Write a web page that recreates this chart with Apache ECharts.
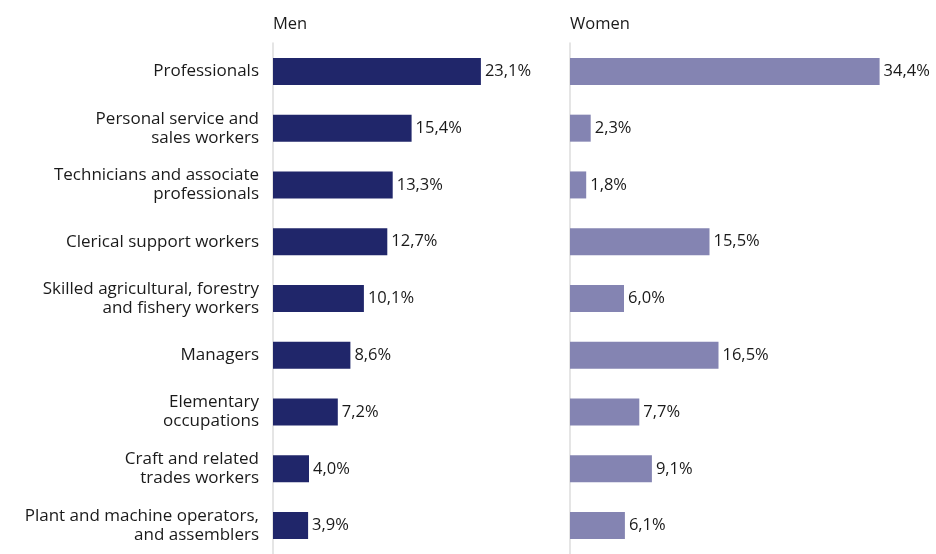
<!DOCTYPE html>
<html>
<head>
<meta charset="utf-8">
<script src="https://cdn.jsdelivr.net/npm/echarts@6/dist/echarts.min.js"></script>
<style>
  html, body { margin: 0; padding: 0; background: #fff; }
  #chart { width: 936px; height: 554px; }
</style>
</head>
<body>
<div id="chart"></div>
<script>
const categories = [
  'Professionals',
  'Personal service and\nsales workers',
  'Technicians and associate\nprofessionals',
  'Clerical support workers',
  'Skilled agricultural, forestry\nand fishery workers',
  'Managers',
  'Elementary\noccupations',
  'Craft and related\ntrades workers',
  'Plant and machine operators,\nand assemblers'
]
const men = [23.1, 15.4, 13.3, 12.7, 10.1, 8.6, 7.2, 4.0, 3.9]
const women = [34.4, 2.3, 1.8, 15.5, 6.0, 16.5, 7.7, 9.1, 6.1]
const panelTitles = ['Men', 'Women']

const FONT = '"Open Sans", "Noto Sans", sans-serif'
const TEXT = '#1a1a1a'
const COLORS = ['#20266a', '#8484b2']

const chart = echarts.init(document.getElementById('chart'))

const fmt = p => p.value.toFixed(1).replace('.', ',') + '%'

const grids = [
  { left: 273, top: 43, width: 270, height: 515 },
  { left: 570, top: 43, width: 315, height: 515 }
]

chart.setOption({
  animation: false,
  textStyle: { fontFamily: FONT },
  title: panelTitles.map((t, i) => ({
    text: t,
    left: grids[i].left - 5,
    top: 11,
    textStyle: { fontFamily: FONT, fontSize: 16.5, fontWeight: 'normal', color: TEXT }
  })),
  grid: grids,
  xAxis: [
    { gridIndex: 0, type: 'value', min: 0, max: 30, show: false },
    { gridIndex: 1, type: 'value', min: 0, max: 35, show: false }
  ],
  yAxis: [0, 1].map(i => ({
    gridIndex: i,
    type: 'category',
    data: categories,
    inverse: true,
    axisLine: { show: true, lineStyle: { color: '#dcdcdc', width: 1.5 } },
    axisTick: { show: false },
    axisLabel: {
      show: i === 0,
      margin: 14,
      align: 'right',
      fontSize: 17,
      lineHeight: 19,
      color: TEXT,
      fontFamily: FONT
    }
  })),
  series: [men, women].map((vals, i) => ({
    type: 'bar',
    xAxisIndex: i,
    yAxisIndex: i,
    data: vals,
    barWidth: 27,
    itemStyle: { color: COLORS[i] },
    label: {
      show: true,
      position: 'right',
      distance: 4,
      formatter: fmt,
      fontSize: 16.5,
      color: TEXT,
      fontFamily: FONT
    }
  }))
})
</script>
</body>
</html>
